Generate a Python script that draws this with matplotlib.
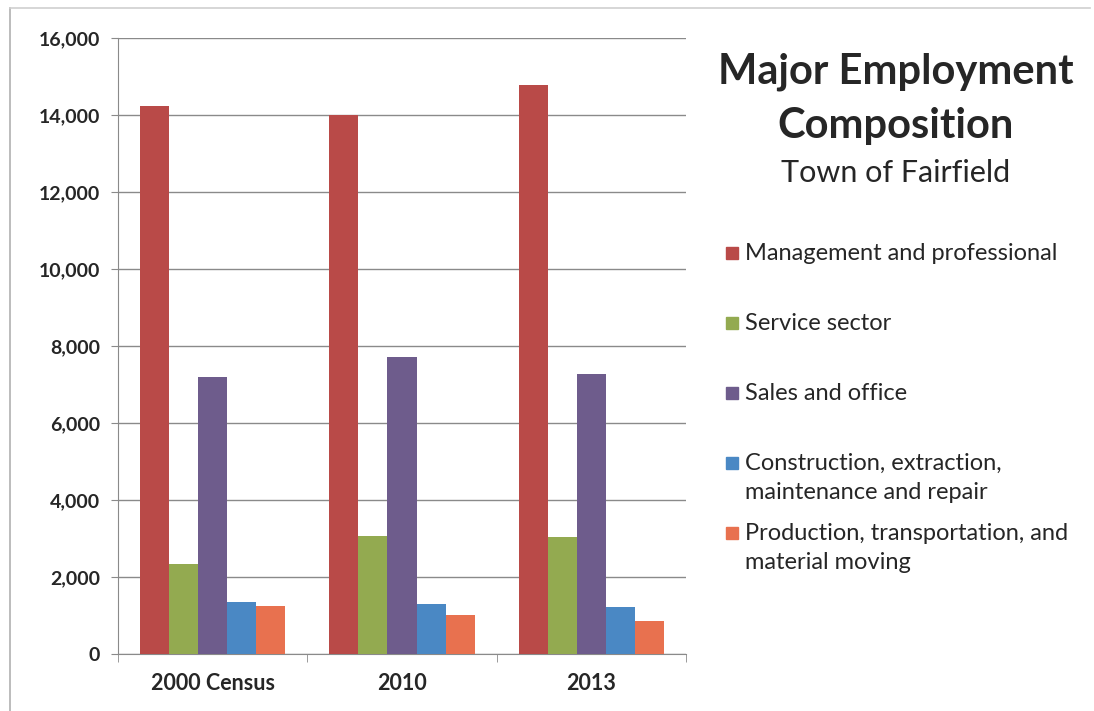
import numpy as np
import matplotlib
matplotlib.use("Agg")
import matplotlib.pyplot as plt
from matplotlib.patches import Rectangle
from matplotlib.ticker import FuncFormatter

plt.rcParams['font.family'] = ['Lato', 'DejaVu Sans']

# data
years = ["2000 Census", "2010", "2013"]
series = ["Management and professional", "Service sector", "Sales and office",
          "Construction, extraction,\nmaintenance and repair",
          "Production, transportation, and\nmaterial moving"]
management = [14230, 14000, 14780]
service = [2340, 3070, 3040]
sales = [7190, 7720, 7280]
construction = [1350, 1300, 1210]
production = [1245, 1005, 850]
colors = ["#B94A48", "#93AA50", "#6E5C8C", "#4A88C4", "#E8714F"]

values = [management, service, sales, construction, production]

fig = plt.figure(figsize=(10.94, 7.11), dpi=100)
ax = fig.add_axes([118/1094, 57/711, (686-118)/1094, (654-38)/711])

n = len(series)
bw = 1 / (n + 1.5)
x = np.arange(len(years))
for i, (vals, c) in enumerate(zip(values, colors)):
    ax.bar(x + (i - (n - 1) / 2) * bw, vals, width=bw, color=c, zorder=3)

ax.set_xlim(-0.5, len(years) - 0.5)
ax.set_ylim(0, 16000)
ax.set_yticks(np.arange(0, 16001, 2000))
ax.yaxis.set_major_formatter(FuncFormatter(lambda v, p: f"{int(v):,}"))
ax.grid(axis='y', color='#8a8a8a', linewidth=1, zorder=0)
ax.set_xticks(x)
ax.set_xticklabels(years)
ax.set_xticks(np.arange(-0.5, len(years)), minor=True)
ax.tick_params(axis='x', which='major', length=0, pad=14, labelsize=15.5, labelcolor='#262626')
ax.tick_params(axis='x', which='minor', length=6, color='#8a8a8a')
ax.tick_params(axis='y', length=5, color='#8a8a8a', pad=8, labelsize=14, labelcolor='#262626')
for lab in ax.get_xticklabels() + ax.get_yticklabels():
    lab.set_fontweight('bold')
for s in ['top', 'right']:
    ax.spines[s].set_visible(False)
for s in ['left', 'bottom']:
    ax.spines[s].set_color('#8a8a8a')

# title block
fig.text(896/1094, 1 - 72/711, "Major Employment", ha='center', va='center',
         fontsize=30, fontweight='bold', color='#262626')
fig.text(896/1094, 1 - 126/711, "Composition", ha='center', va='center',
         fontsize=30, fontweight='bold', color='#262626')
fig.text(896/1094, 1 - 173/711, "Town of Fairfield", ha='center', va='center',
         fontsize=22, color='#262626')

# legend
leg_y = [253, 323, 393, 463, 533]
for lab, c, yy in zip(series, colors, leg_y):
    fig.patches.append(Rectangle((726/1094, 1 - (yy + 6)/711), 12/1094, 12/711,
                                 transform=fig.transFigure, color=c))
    fig.text(745/1094, 1 - (yy - 10)/711, lab, ha='left', va='top',
             fontsize=17, color='#262626', linespacing=1.45)

# scan frame
fig.add_artist(plt.Line2D([10/1094, 10/1094], [0, 1 - 8/711], transform=fig.transFigure,
                          color='#b0b0b0', linewidth=1.2))
fig.add_artist(plt.Line2D([10/1094, 1090/1094], [1 - 8/711, 1 - 8/711], transform=fig.transFigure,
                          color='#cfcfcf', linewidth=1.2))

fig.savefig("out.png", dpi=100)
